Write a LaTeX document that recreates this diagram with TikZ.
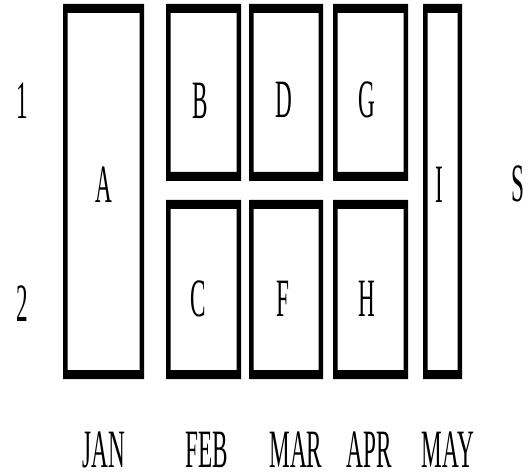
\documentclass[tikz,border=0pt]{standalone}
\usepackage{fontspec}
\setmainfont{Liberation Serif}
\begin{document}
\begin{tikzpicture}[x=1pt,y=-1pt,
  lbl/.style={font=\fontsize{54}{60}\selectfont, xscale=0.43, inner sep=0pt, anchor=base, text=black},
  boxfill/.style={fill=black, even odd rule}]
\useasboundingbox (0,0) rectangle (530,473);
\newcommand\calbox[5]{%
  \fill[boxfill] (#1,#2) rectangle (#3,#4) (#1+4.5,#2+9) rectangle (#3-4.5,#4-9);
  \coordinate (#5) at ({(#1+#3)/2},{(#2+#4)/2});}
% boxes
\calbox{63}{4}{144}{379}{boxA}
\calbox{166}{4}{241}{181}{boxB}
\calbox{166}{200}{241}{379}{boxC}
\calbox{249}{4}{323}{181}{boxD}
\calbox{249}{200}{323}{379}{boxF}
\calbox{333}{4}{408}{181}{boxG}
\calbox{333}{200}{408}{379}{boxH}
\calbox{423}{4}{462}{379}{boxI}
% row labels
\node[lbl] (r1) at (22,119) {1};
\node[lbl] (r2) at (22,321) {2};
% box labels
\node[lbl] (A) at (103.5,203) {A};
\node[lbl] (B) at (200,119) {B};
\node[lbl] (C) at (198,316) {C};
\node[lbl] (D) at (284,118) {D};
\node[lbl] (F) at (283,316) {F};
\node[lbl] (G) at (367,118) {G};
\node[lbl] (H) at (367,316) {H};
\node[lbl] (I) at (439,203) {I};
\node[lbl] (S) at (518,202) {S};
% month labels
\node[lbl] (jan) at (103.5,467) {JAN};
\node[lbl] (feb) at (207,467) {FEB};
\node[lbl] (mar) at (296,467) {MAR};
\node[lbl] (apr) at (369,467) {APR};
\node[lbl] (may) at (448,467) {MAY};
\end{tikzpicture}
\end{document}
